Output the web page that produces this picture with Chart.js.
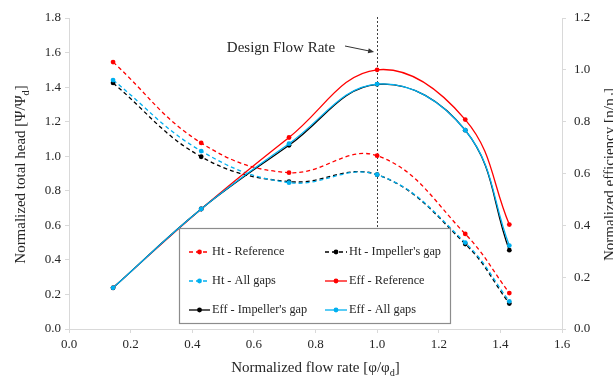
<!DOCTYPE html>
<html>
<head>
<meta charset="utf-8">
<script src="https://cdn.jsdelivr.net/npm/chart.js@4.4.1/dist/chart.umd.min.js"></script>
<style>
  html, body { margin: 0; padding: 0; background: #fff; }
  canvas { display: block; }
</style>
</head>
<body>
<canvas id="perfChart" width="613" height="378"></canvas>
<script>
// Pump performance curves: normalized head (left axis) and efficiency (right axis)
const flowRate = [0.143, 0.429, 0.714, 1.0, 1.286, 1.429];

const htReference = [1.545, 1.077, 0.905, 1.003, 0.550, 0.208];
const htImpellerGap = [1.424, 0.997, 0.853, 0.893, 0.492, 0.147];
const htAllGaps = [1.441, 1.030, 0.847, 0.893, 0.500, 0.160];

const effReference = [0.159, 0.463, 0.739, 1.000, 0.808, 0.403];
const effImpellerGap = [0.159, 0.463, 0.709, 0.944, 0.767, 0.304];
const effAllGaps = [0.159, 0.463, 0.715, 0.945, 0.767, 0.322];

const seriesLabels = ['Ht - Reference', "Ht - Impeller's gap", 'Ht - All gaps',
                      'Eff - Reference', "Eff - Impeller's gap", 'Eff - All gaps'];
const seriesValues = [htReference, htImpellerGap, htAllGaps, effReference, effImpellerGap, effAllGaps];
const seriesColors = ['#ff0000', '#000000', '#00b0f0', '#ff0000', '#000000', '#00b0f0'];

const designFlow = 1.0;
const xTicksMax = 1.6;
const headMax = 1.8;
const effMax = 1.2;

const FONT = '"Liberation Serif", "Times New Roman", serif';
const TEXT = '#262626';
const AXIS = '#d9d9d9';

const datasets = seriesValues.map((vals, i) => {
    const isHead = i < 3;
    return {
        label: seriesLabels[i],
        data: flowRate.map((x, k) => ({ x, y: vals[k] })),
        yAxisID: isHead ? 'y' : 'y2',
        borderColor: seriesColors[i],
        backgroundColor: seriesColors[i],
        borderWidth: 1.3,
        borderDash: isHead ? [4, 3] : [],
        pointRadius: 2.4,
        pointBorderWidth: 0,
        tension: 0.4,
        fill: false,
        order: -i
    };
});

// write text made of normal and subscript pieces, centred on (x, y)
function drawRich(ctx, parts, x, y, angle, size) {
    ctx.save();
    ctx.translate(x, y);
    ctx.rotate(angle);
    ctx.textBaseline = 'alphabetic';
    ctx.textAlign = 'left';
    let total = 0;
    parts.forEach(p => {
        ctx.font = (p.sub ? size * 0.68 : size) + 'px ' + FONT;
        p.w = ctx.measureText(p.t).width;
        total += p.w;
    });
    let cx = -total / 2;
    parts.forEach(p => {
        ctx.font = (p.sub ? size * 0.68 : size) + 'px ' + FONT;
        ctx.fillText(p.t, cx, size * 0.35 + (p.sub ? size * 0.22 : 0));
        cx += p.w;
    });
    ctx.restore();
}

const legendBox = { left: 179, top: 228, right: 450, bottom: 323 };

const decorPlugin = {
    id: 'decor',
    beforeDatasetsDraw(chart) {
        const ctx = chart.ctx;
        const xd = Math.round(chart.scales.x.getPixelForValue(designFlow)) + 0.5;
        ctx.save();
        ctx.strokeStyle = '#404040';
        ctx.lineWidth = 1;
        ctx.setLineDash([2, 2]);
        ctx.beginPath();
        ctx.moveTo(xd, chart.chartArea.top - 1);
        ctx.lineTo(xd, legendBox.top);
        ctx.stroke();
        ctx.restore();
    },
    afterDatasetsDraw(chart) {
        const ctx = chart.ctx;
        const xd = chart.scales.x.getPixelForValue(designFlow);

        // annotation with arrow to the design point line
        ctx.save();
        ctx.fillStyle = TEXT;
        ctx.font = '15px ' + FONT;
        ctx.textAlign = 'center';
        ctx.textBaseline = 'middle';
        ctx.fillText('Design Flow Rate', 281, 48);
        const ax0 = 345, ay0 = 46, ax1 = xd - 3, ay1 = 52;
        const ang = Math.atan2(ay1 - ay0, ax1 - ax0);
        ctx.strokeStyle = '#333';
        ctx.lineWidth = 1;
        ctx.beginPath();
        ctx.moveTo(ax0, ay0);
        ctx.lineTo(ax1 - 4 * Math.cos(ang), ay1 - 4 * Math.sin(ang));
        ctx.stroke();
        ctx.fillStyle = '#333';
        ctx.beginPath();
        ctx.moveTo(ax1, ay1);
        ctx.lineTo(ax1 - 6 * Math.cos(ang) + 2.5 * Math.sin(ang), ay1 - 6 * Math.sin(ang) - 2.5 * Math.cos(ang));
        ctx.lineTo(ax1 - 6 * Math.cos(ang) - 2.5 * Math.sin(ang), ay1 - 6 * Math.sin(ang) + 2.5 * Math.cos(ang));
        ctx.closePath();
        ctx.fill();
        ctx.restore();

        // legend box
        const b = legendBox;
        ctx.save();
        ctx.fillStyle = '#fff';
        ctx.fillRect(b.left, b.top, b.right - b.left, b.bottom - b.top);
        ctx.strokeStyle = '#8c8c8c';
        ctx.lineWidth = 1.2;
        ctx.strokeRect(b.left + 0.5, b.top + 0.5, b.right - b.left, b.bottom - b.top);
        const cols = [{ x0: 189, x1: 210 }, { x0: 325, x1: 347 }];
        const rows = [252, 281, 310];
        ctx.font = '12.3px ' + FONT;
        ctx.textBaseline = 'middle';
        ctx.textAlign = 'left';
        chart.data.datasets.forEach((ds, i) => {
            const c = cols[i % 2];
            const y = rows[Math.floor(i / 2)];
            ctx.strokeStyle = ds.borderColor;
            ctx.lineWidth = ds.borderWidth;
            ctx.setLineDash(ds.borderDash);
            ctx.beginPath();
            ctx.moveTo(c.x0, y);
            ctx.lineTo(c.x1, y);
            ctx.stroke();
            ctx.setLineDash([]);
            ctx.fillStyle = ds.borderColor;
            ctx.beginPath();
            ctx.arc((c.x0 + c.x1) / 2, y, 2.4, 0, Math.PI * 2);
            ctx.fill();
            ctx.fillStyle = TEXT;
            ctx.fillText(ds.label, c.x1 + 2, y);
        });
        ctx.restore();
    },
    afterDraw(chart) {
        const ctx = chart.ctx;
        const a = chart.chartArea;
        const midY = (a.top + a.bottom) / 2 + 1;
        ctx.save();
        ctx.fillStyle = TEXT;
        drawRich(ctx, [{ t: 'Normalized total head [Ψ/Ψ' }, { t: 'd', sub: true }, { t: ']' }],
            20, midY, -Math.PI / 2, 15);
        drawRich(ctx, [{ t: 'Normalized efficiency [η/η' }, { t: 'd', sub: true }, { t: ']' }],
            609, midY, -Math.PI / 2, 15);
        drawRich(ctx, [{ t: 'Normalized flow rate [φ/φ' }, { t: 'd', sub: true }, { t: ']' }],
            (a.left + a.right) / 2, 367, 0, 15);
        ctx.restore();
    }
};

const axisGrid = {
    display: true,
    drawOnChartArea: false,
    drawTicks: true,
    tickLength: 4,
    color: AXIS
};

new Chart(document.getElementById('perfChart').getContext('2d'), {
    type: 'line',
    data: { datasets },
    options: {
        responsive: false,
        animation: false,
        layout: { padding: { top: 18, left: 0, right: 0, bottom: 0 } },
        plugins: {
            legend: { display: false },
            tooltip: { enabled: false }
        },
        scales: {
            x: {
                type: 'linear',
                min: 0,
                max: xTicksMax,
                grid: axisGrid,
                border: { display: true, color: AXIS },
                ticks: {
                    stepSize: 0.2,
                    autoSkip: false,
                    maxRotation: 0,
                    padding: 4,
                    color: TEXT,
                    font: { family: FONT, size: 13 },
                    callback: v => Number(v).toFixed(1)
                },
                afterFit: s => { s.height = 49; }
            },
            y: {
                position: 'left',
                min: 0,
                max: headMax,
                grid: axisGrid,
                border: { display: true, color: AXIS },
                ticks: {
                    stepSize: 0.2,
                    padding: 4,
                    color: TEXT,
                    font: { family: FONT, size: 13 },
                    callback: v => Number(v).toFixed(1)
                },
                afterFit: s => { s.width = 69; }
            },
            y2: {
                position: 'right',
                min: 0,
                max: effMax,
                grid: axisGrid,
                border: { display: true, color: AXIS },
                ticks: {
                    stepSize: 0.2,
                    padding: 8,
                    color: TEXT,
                    font: { family: FONT, size: 13 },
                    callback: v => Number(v).toFixed(1)
                },
                afterFit: s => { s.width = 51; }
            }
        }
    },
    plugins: [decorPlugin]
});
</script>
</body>
</html>
